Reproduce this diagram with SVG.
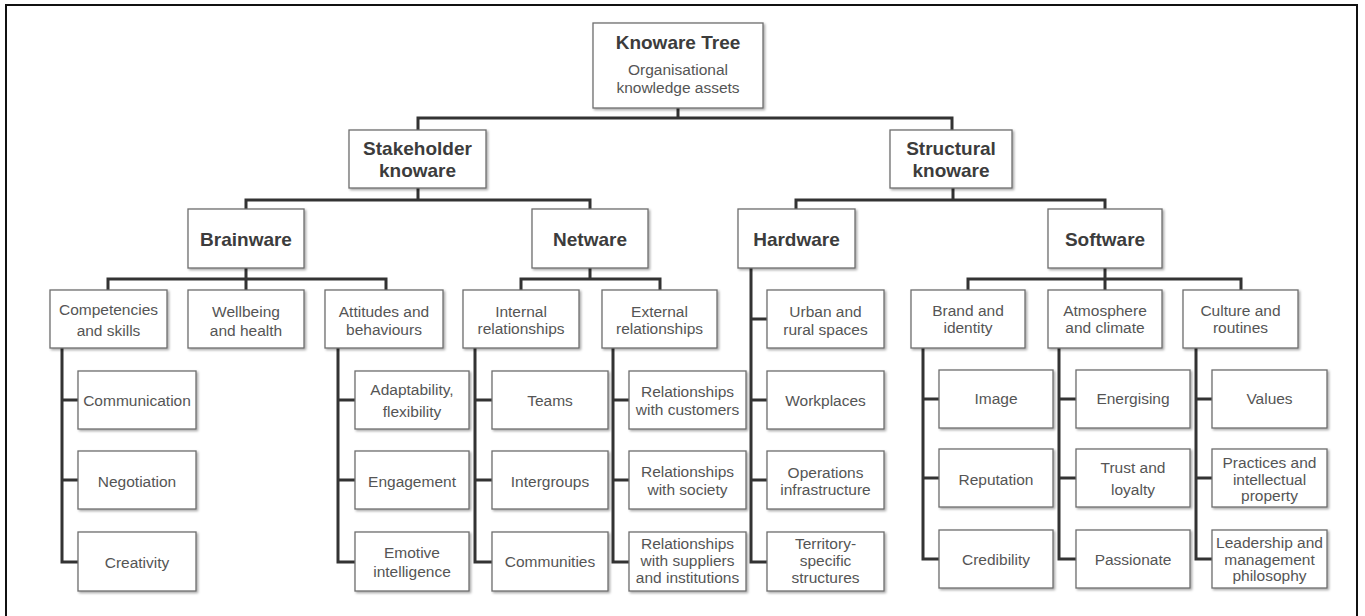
<svg xmlns="http://www.w3.org/2000/svg" width="1365" height="616" viewBox="0 0 1365 616">
  <style>
    .box { fill: #ffffff; stroke: #6e6e6e; stroke-width: 1.3; filter: url(#shadow); }
    .wire { fill: none; stroke: #333333; stroke-width: 3; stroke-linejoin: miter; stroke-linecap: butt; }
    text { font-family: "Liberation Sans", Arial, Helvetica, sans-serif; text-anchor: middle; }
    .h { font-size: 19px; font-weight: bold; fill: #3c3c3c; }
    .t { font-size: 15.5px; fill: #555555; }
  </style>
  <defs>
    <filter id="shadow" x="-10%" y="-10%" width="130%" height="130%">
      <feDropShadow dx="1.5" dy="1.5" stdDeviation="0.9" flood-color="#000000" flood-opacity="0.35"/>
    </filter>
  </defs>

  <rect x="0" y="0" width="1365" height="616" fill="#ffffff"/>
  <!-- outer frame -->
  <rect x="6" y="5" width="1351" height="640" fill="none" stroke="#111111" stroke-width="2"/>

  <!-- tree connectors -->
  <g id="connectors" class="wire">
    <path d="M678,108 V118 M418,130 V118 H952 V130"/>
    <path d="M418,188 V200 M246,209 V200 H590 V209"/>
    <path d="M953,188 V200 M796,209 V200 H1105 V209"/>
    <path d="M246,268 V279 M108,290 V279 H386 V290 M246,279 V290"/>
    <path d="M590,268 V279 M521,290 V279 H660 V290"/>
    <path d="M1105,268 V279 M968,290 V279 H1241 V290 M1105,279 V290"/>
    <path d="M62,348 V562 H78 M62,400 H78 M62,480 H78"/>
    <path d="M338,348 V562 H355 M338,400 H355 M338,480 H355"/>
    <path d="M475,348 V562 H492 M475,400 H492 M475,480 H492"/>
    <path d="M613,348 V562 H629 M613,400 H629 M613,480 H629"/>
    <path d="M751,268 V562 H767 M751,319 H767 M751,400 H767 M751,480 H767"/>
    <path d="M923,348 V559 H939 M923,399 H939 M923,478 H939"/>
    <path d="M1059,348 V559 H1076 M1059,399 H1076 M1059,478 H1076"/>
    <path d="M1196,348 V559 H1212 M1196,399 H1212 M1196,478 H1212"/>
  </g>

  <!-- root -->
  <g id="knoware-tree">
    <rect class="box" x="593" y="23" width="170" height="85"/>
    <text class="h" x="678" y="49">Knoware Tree</text>
    <text class="t" x="678" y="75">Organisational</text>
    <text class="t" x="678" y="93">knowledge assets</text>
  </g>

  <!-- second level -->
  <g id="stakeholder-knoware">
    <rect class="box" x="349" y="130" width="137" height="58"/>
    <text class="h" x="417.5" y="155">Stakeholder</text>
    <text class="h" x="417.5" y="177">knoware</text>
  </g>
  <g id="structural-knoware">
    <rect class="box" x="890" y="130" width="122" height="58"/>
    <text class="h" x="951" y="155">Structural</text>
    <text class="h" x="951" y="177">knoware</text>
  </g>

  <!-- third level -->
  <g id="brainware">
    <rect class="box" x="188" y="209" width="116" height="59"/>
    <text class="h" x="246" y="246">Brainware</text>
  </g>
  <g id="netware">
    <rect class="box" x="532" y="209" width="116" height="59"/>
    <text class="h" x="590" y="246">Netware</text>
  </g>
  <g id="hardware">
    <rect class="box" x="738" y="209" width="117" height="59"/>
    <text class="h" x="796.5" y="246">Hardware</text>
  </g>
  <g id="software">
    <rect class="box" x="1048" y="209" width="114" height="59"/>
    <text class="h" x="1105" y="246">Software</text>
  </g>

  <!-- fourth level -->
  <g id="competencies">
    <rect class="box" x="50" y="290" width="117" height="58"/>
    <text class="t" x="108.5" y="315">Competencies</text>
    <text class="t" x="108.5" y="336">and skills</text>
  </g>
  <g id="wellbeing">
    <rect class="box" x="188" y="290" width="116" height="58"/>
    <text class="t" x="246" y="317">Wellbeing</text>
    <text class="t" x="246" y="336">and health</text>
  </g>
  <g id="attitudes">
    <rect class="box" x="325" y="290" width="118" height="58"/>
    <text class="t" x="384" y="317">Attitudes and</text>
    <text class="t" x="384" y="335">behaviours</text>
  </g>
  <g id="internal">
    <rect class="box" x="463" y="290" width="116" height="58"/>
    <text class="t" x="521" y="317">Internal</text>
    <text class="t" x="521" y="334">relationships</text>
  </g>
  <g id="external">
    <rect class="box" x="602" y="290" width="115" height="58"/>
    <text class="t" x="659.5" y="317">External</text>
    <text class="t" x="659.5" y="334">relationships</text>
  </g>
  <g id="urban">
    <rect class="box" x="767" y="290" width="117" height="58"/>
    <text class="t" x="825.5" y="317">Urban and</text>
    <text class="t" x="825.5" y="335">rural spaces</text>
  </g>
  <g id="brand">
    <rect class="box" x="911" y="290" width="114" height="58"/>
    <text class="t" x="968" y="316">Brand and</text>
    <text class="t" x="968" y="333">identity</text>
  </g>
  <g id="atmosphere">
    <rect class="box" x="1048" y="290" width="114" height="58"/>
    <text class="t" x="1105" y="316">Atmosphere</text>
    <text class="t" x="1105" y="333">and climate</text>
  </g>
  <g id="culture">
    <rect class="box" x="1183" y="290" width="115" height="58"/>
    <text class="t" x="1240.5" y="316">Culture and</text>
    <text class="t" x="1240.5" y="333">routines</text>
  </g>

  <!-- competencies and skills -->
  <g id="communication">
    <rect class="box" x="78" y="371" width="118" height="58"/>
    <text class="t" x="137" y="405.5">Communication</text>
  </g>
  <g id="negotiation">
    <rect class="box" x="78" y="451" width="118" height="58"/>
    <text class="t" x="137" y="487">Negotiation</text>
  </g>
  <g id="creativity">
    <rect class="box" x="78" y="532" width="118" height="59"/>
    <text class="t" x="137" y="568">Creativity</text>
  </g>

  <!-- attitudes and behaviours -->
  <g id="adaptability">
    <rect class="box" x="355" y="371" width="114" height="58"/>
    <text class="t" x="412" y="395">Adaptability,</text>
    <text class="t" x="412" y="417">flexibility</text>
  </g>
  <g id="engagement">
    <rect class="box" x="355" y="451" width="114" height="58"/>
    <text class="t" x="412" y="487">Engagement</text>
  </g>
  <g id="emotive">
    <rect class="box" x="355" y="532" width="114" height="59"/>
    <text class="t" x="412" y="558">Emotive</text>
    <text class="t" x="412" y="577">intelligence</text>
  </g>

  <!-- internal relationships -->
  <g id="teams">
    <rect class="box" x="492" y="371" width="116" height="58"/>
    <text class="t" x="550" y="405.5">Teams</text>
  </g>
  <g id="intergroups">
    <rect class="box" x="492" y="451" width="116" height="58"/>
    <text class="t" x="550" y="486.5">Intergroups</text>
  </g>
  <g id="communities">
    <rect class="box" x="492" y="532" width="116" height="59"/>
    <text class="t" x="550" y="567">Communities</text>
  </g>

  <!-- external relationships -->
  <g id="customers">
    <rect class="box" x="629" y="371" width="117" height="58"/>
    <text class="t" x="687.5" y="397">Relationships</text>
    <text class="t" x="687.5" y="415">with customers</text>
  </g>
  <g id="society">
    <rect class="box" x="629" y="451" width="117" height="58"/>
    <text class="t" x="687.5" y="477">Relationships</text>
    <text class="t" x="687.5" y="495">with society</text>
  </g>
  <g id="suppliers">
    <rect class="box" x="629" y="532" width="117" height="59"/>
    <text class="t" x="687.5" y="549">Relationships</text>
    <text class="t" x="687.5" y="566">with suppliers</text>
    <text class="t" x="687.5" y="583">and institutions</text>
  </g>

  <!-- hardware -->
  <g id="workplaces">
    <rect class="box" x="767" y="371" width="117" height="58"/>
    <text class="t" x="825.5" y="406">Workplaces</text>
  </g>
  <g id="operations">
    <rect class="box" x="767" y="451" width="117" height="58"/>
    <text class="t" x="825.5" y="478">Operations</text>
    <text class="t" x="825.5" y="495">infrastructure</text>
  </g>
  <g id="territory">
    <rect class="box" x="767" y="532" width="117" height="59"/>
    <text class="t" x="825.5" y="549">Territory-</text>
    <text class="t" x="825.5" y="566">specific</text>
    <text class="t" x="825.5" y="583">structures</text>
  </g>

  <!-- brand and identity -->
  <g id="image">
    <rect class="box" x="939" y="370" width="114" height="58"/>
    <text class="t" x="996" y="404">Image</text>
  </g>
  <g id="reputation">
    <rect class="box" x="939" y="449" width="114" height="58"/>
    <text class="t" x="996" y="485">Reputation</text>
  </g>
  <g id="credibility">
    <rect class="box" x="939" y="530" width="114" height="58"/>
    <text class="t" x="996" y="565">Credibility</text>
  </g>

  <!-- atmosphere and climate -->
  <g id="energising">
    <rect class="box" x="1076" y="370" width="114" height="58"/>
    <text class="t" x="1133" y="404">Energising</text>
  </g>
  <g id="trust">
    <rect class="box" x="1076" y="449" width="114" height="58"/>
    <text class="t" x="1133" y="473">Trust and</text>
    <text class="t" x="1133" y="495">loyalty</text>
  </g>
  <g id="passionate">
    <rect class="box" x="1076" y="530" width="114" height="58"/>
    <text class="t" x="1133" y="565">Passionate</text>
  </g>

  <!-- culture and routines -->
  <g id="values">
    <rect class="box" x="1212" y="370" width="115" height="58"/>
    <text class="t" x="1269.5" y="404">Values</text>
  </g>
  <g id="practices">
    <rect class="box" x="1212" y="449" width="115" height="58"/>
    <text class="t" x="1269.5" y="468">Practices and</text>
    <text class="t" x="1269.5" y="485">intellectual</text>
    <text class="t" x="1269.5" y="501">property</text>
  </g>
  <g id="leadership">
    <rect class="box" x="1212" y="530" width="115" height="58"/>
    <text class="t" x="1269.5" y="548">Leadership and</text>
    <text class="t" x="1269.5" y="565">management</text>
    <text class="t" x="1269.5" y="581">philosophy</text>
  </g>
</svg>
